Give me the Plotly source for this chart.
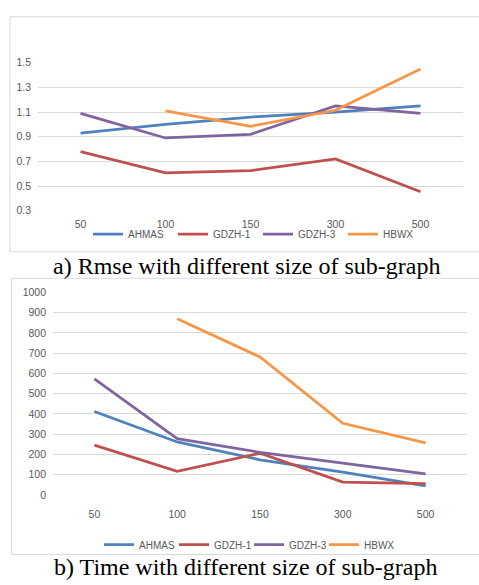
import plotly.graph_objects as go

categories = ["50", "100", "150", "300", "500"]
series_names = ["AHMAS", "GDZH-1", "GDZH-3", "HBWX"]
colors = ["#4F81BD", "#C0504D", "#8064A2", "#F79646"]

rmse_ahmas = [0.93, 1.00, 1.06, 1.10, 1.15]
rmse_gdzh1 = [0.78, 0.607, 0.626, 0.72, 0.454]
rmse_gdzh3 = [1.09, 0.89, 0.92, 1.15, 1.09]
rmse_hbwx = [None, 1.11, 0.985, 1.115, 1.45]

time_ahmas = [412, 262, 174, 113, 45]
time_gdzh1 = [246, 117, 206, 64, 56]
time_gdzh3 = [573, 278, 211, 158, 104]
time_hbwx = [None, 870, 681, 354, 257]

rmse_ticks = [0.3, 0.5, 0.7, 0.9, 1.1, 1.3, 1.5]
time_ticks = [0, 100, 200, 300, 400, 500, 600, 700, 800, 900, 1000]

W, H = 479, 585
def px(x): return x / W
def py(y): return 1 - y / H

fig = go.Figure()
rmse = [rmse_ahmas, rmse_gdzh1, rmse_gdzh3, rmse_hbwx]
times = [time_ahmas, time_gdzh1, time_gdzh3, time_hbwx]
for name, c, vals in zip(series_names, colors, rmse):
    fig.add_trace(go.Scatter(x=categories, y=vals, mode="lines", name=name,
                             line=dict(color=c, width=2.75), xaxis="x", yaxis="y",
                             legend="legend"))
for name, c, vals in zip(series_names, colors, times):
    fig.add_trace(go.Scatter(x=categories, y=vals, mode="lines", name=name,
                             line=dict(color=c, width=2.75), xaxis="x2", yaxis="y2",
                             legend="legend2"))

tickfont = dict(family="Liberation Sans, Arial", size=10.5, color="#595959")
legfont = dict(family="Liberation Sans, Arial", size=10, color="#595959")
grid = "#D9D9D9"

fig.update_layout(
    width=W, height=H, margin=dict(l=0, r=0, t=0, b=0),
    paper_bgcolor="white", plot_bgcolor="white",
    xaxis=dict(domain=[px(38), px(463)], anchor="y", type="category",
               range=[-0.5, 4.5], showgrid=False, showline=False, ticks="",
               tickfont=tickfont, ticklabelstandoff=6),
    yaxis=dict(domain=[py(209), py(58)], anchor="x", range=[0.3, 1.5],
               tickvals=rmse_ticks, ticktext=[f"{v:.1f}" for v in rmse_ticks],
               showgrid=True, gridcolor=grid, gridwidth=1, zeroline=False,
               showline=False, tickfont=tickfont, ticklabelstandoff=6),
    xaxis2=dict(domain=[px(53), px(467)], anchor="y2", type="category",
                range=[-0.5, 4.5], showgrid=False, showline=False, ticks="",
                tickfont=tickfont, ticklabelstandoff=11),
    yaxis2=dict(domain=[py(499.3), py(292.3)], anchor="x2", range=[0, 1000],
                tickvals=time_ticks, showgrid=True, gridcolor=grid, gridwidth=1,
                zeroline=False, showline=False, tickfont=tickfont, ticklabelstandoff=6),
    legend=dict(orientation="h", x=px(258), y=py(233), xanchor="center", yanchor="middle",
                font=legfont, itemwidth=30, entrywidth=40, bgcolor="rgba(0,0,0,0)"),
    legend2=dict(orientation="h", x=px(249), y=py(550), xanchor="center", yanchor="middle",
                 font=legfont, itemwidth=30, entrywidth=30, bgcolor="rgba(0,0,0,0)"),
    shapes=[
        dict(type="rect", xref="paper", yref="paper", x0=px(10), x1=px(482),
             y0=py(251), y1=py(11), line=dict(color="#D9D9D9", width=1)),
        dict(type="rect", xref="paper", yref="paper", x0=px(11.5), x1=px(482),
             y0=py(560), y1=py(278), line=dict(color="#D9D9D9", width=1)),
    ],
    annotations=[
        dict(text="a) Rmse with different size of sub-graph", xref="paper", yref="paper",
             x=px(246), y=py(265), xanchor="center", yanchor="middle", showarrow=False,
             font=dict(family="Liberation Serif, Times New Roman", size=24, color="black")),
        dict(text="b) Time with different size of sub-graph", xref="paper", yref="paper",
             x=px(246), y=py(573), xanchor="center", yanchor="middle", showarrow=False,
             font=dict(family="Liberation Serif, Times New Roman", size=24, color="black")),
    ],
)

fig.write_html("out.html", config={"displayModeBar": False},
               post_script="document.body.style.margin='0';")
